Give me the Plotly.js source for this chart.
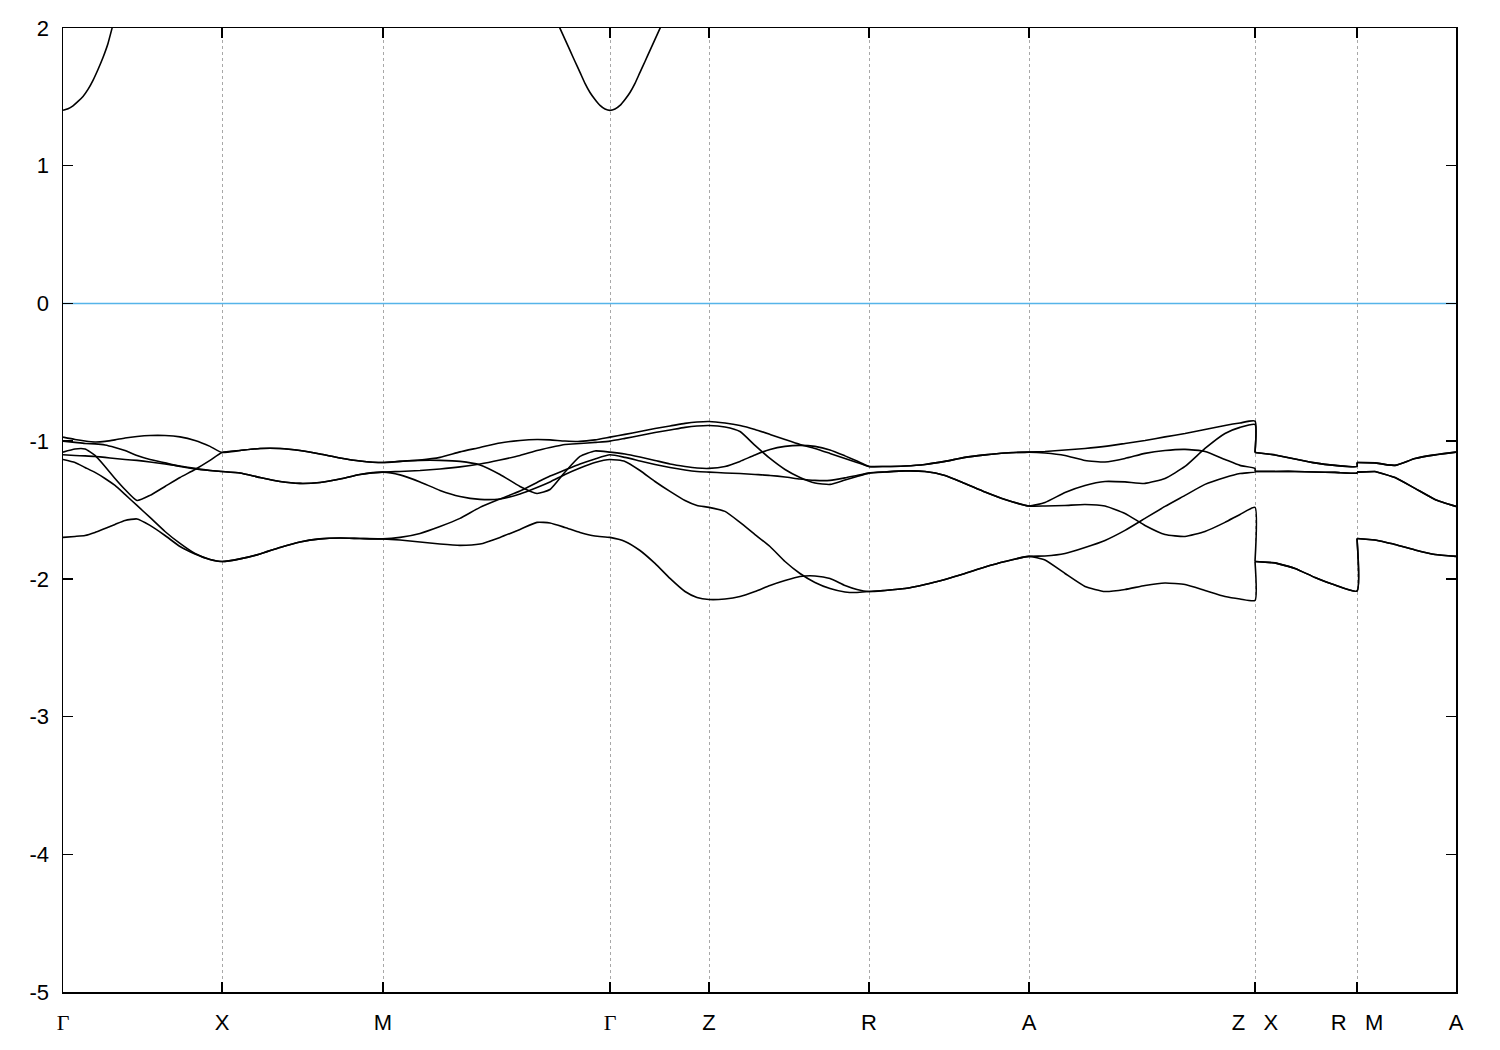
<!DOCTYPE html>
<html>
<head>
<meta charset="utf-8">
<script src="https://cdn.plot.ly/plotly-3.0.1.min.js"></script>
<style>html,body{margin:0;padding:0;background:#fff;}#plot{width:1500px;height:1050px;}</style>
</head>
<body>
<div id="plot"></div>
<script>
// k-path coordinate (arbitrary units along path)
const kPath = [0,0.12,0.22,0.32,0.42,0.52,0.62,0.74,0.87,1.02,1.17,1.32,1.47,1.59,
 1.77,1.97,2.17,2.37,2.57,2.77,2.97,3.20,
 3.37,3.57,3.77,3.97,4.17,4.37,4.57,4.74,4.87,5.02,5.17,5.32,5.47,
 5.62,5.77,5.92,6.07,6.22,6.34,6.46,
 6.62,6.77,6.92,7.07,7.22,7.37,7.52,7.67,7.82,7.94,8.06,
 8.22,8.42,8.62,8.82,9.02,9.22,9.42,9.66,
 9.82,10.02,10.22,10.42,10.62,10.82,11.02,11.22,11.42,11.62,11.77,11.92,
 11.92,
 12.12,12.32,12.52,12.72,12.94,
 12.94,
 13.12,13.32,13.52,13.72,13.93];

const bandA = [-0.971,-0.988,-0.999,-1.006,-1.002,-0.991,-0.977,-0.966,-0.959,-0.959,-0.969,-0.995,-1.038,-1.082,
 -1.068,-1.053,-1.053,-1.068,-1.093,-1.122,-1.144,-1.155,
 -1.147,-1.137,-1.118,-1.078,-1.046,-1.013,-0.995,-0.988,-0.991,-0.999,-1.002,-0.991,-0.971,
 -0.951,-0.930,-0.908,-0.890,-0.871,-0.861,-0.857,
 -0.868,-0.886,-0.915,-0.951,-0.988,-1.024,-1.053,-1.089,-1.126,-1.155,-1.184,
 -1.184,-1.180,-1.169,-1.147,-1.118,-1.100,-1.086,-1.080,
 -1.075,-1.064,-1.053,-1.038,-1.017,-0.995,-0.969,-0.944,-0.915,-0.886,-0.868,-0.855,
 -1.082,
 -1.100,-1.129,-1.158,-1.176,-1.184,
 -1.155,
 -1.158,-1.176,-1.126,-1.100,-1.080];

const bandB = [-1.000,-1.009,-1.017,-1.020,-1.028,-1.046,-1.068,-1.104,-1.133,-1.158,-1.184,-1.202,-1.213,-1.220,
 -1.231,-1.264,-1.293,-1.307,-1.300,-1.275,-1.242,-1.225,
 -1.220,-1.213,-1.202,-1.187,-1.166,-1.137,-1.104,-1.068,-1.046,-1.024,-1.017,-1.009,-1.000,
 -0.980,-0.959,-0.937,-0.919,-0.900,-0.890,-0.886,
 -0.897,-0.930,-1.031,-1.126,-1.206,-1.264,-1.304,-1.314,-1.282,-1.256,-1.232,
 -1.224,-1.216,-1.220,-1.249,-1.307,-1.369,-1.423,-1.471,
 -1.471,-1.467,-1.460,-1.471,-1.525,-1.612,-1.678,-1.692,-1.656,-1.590,-1.532,-1.481,
 -1.874,
 -1.884,-1.924,-1.990,-2.045,-2.089,
 -1.707,
 -1.718,-1.750,-1.790,-1.823,-1.837];

const bandC = [-1.080,-1.057,-1.057,-1.104,-1.184,-1.271,-1.351,-1.431,-1.394,-1.329,-1.264,-1.206,-1.140,-1.082,
 -1.068,-1.053,-1.053,-1.068,-1.093,-1.122,-1.144,-1.155,
 -1.147,-1.140,-1.140,-1.147,-1.173,-1.242,-1.329,-1.380,-1.351,-1.224,-1.111,-1.071,-1.080,
 -1.093,-1.115,-1.140,-1.166,-1.184,-1.195,-1.198,
 -1.184,-1.147,-1.100,-1.060,-1.038,-1.031,-1.038,-1.064,-1.107,-1.144,-1.184,
 -1.184,-1.180,-1.169,-1.147,-1.118,-1.100,-1.086,-1.080,
 -1.086,-1.104,-1.140,-1.151,-1.126,-1.089,-1.068,-1.060,-1.075,-1.133,-1.176,-1.198,
 -1.220,
 -1.220,-1.220,-1.224,-1.227,-1.232,
 -1.225,
 -1.220,-1.264,-1.343,-1.423,-1.474];

const bandD = [-1.099,-1.104,-1.107,-1.111,-1.118,-1.126,-1.133,-1.140,-1.151,-1.166,-1.180,-1.198,-1.213,-1.220,
 -1.231,-1.264,-1.293,-1.307,-1.300,-1.275,-1.242,-1.225,
 -1.245,-1.296,-1.358,-1.402,-1.423,-1.420,-1.383,-1.336,-1.296,-1.242,-1.195,-1.155,-1.133,
 -1.147,-1.213,-1.293,-1.365,-1.431,-1.467,-1.481,
 -1.510,-1.590,-1.678,-1.765,-1.874,-1.961,-2.026,-2.070,-2.095,-2.099,-2.092,
 -2.084,-2.070,-2.041,-2.004,-1.961,-1.914,-1.874,-1.837,
 -1.834,-1.816,-1.772,-1.721,-1.648,-1.561,-1.474,-1.394,-1.314,-1.264,-1.235,-1.224,
 -1.220,
 -1.220,-1.220,-1.224,-1.227,-1.232,
 -1.225,
 -1.220,-1.264,-1.343,-1.423,-1.474];

const bandE = [-1.133,-1.155,-1.191,-1.227,-1.271,-1.322,-1.387,-1.467,-1.554,-1.656,-1.743,-1.816,-1.859,-1.874,
 -1.855,-1.819,-1.772,-1.732,-1.710,-1.703,-1.707,-1.710,
 -1.699,-1.670,-1.620,-1.561,-1.481,-1.420,-1.362,-1.300,-1.253,-1.209,-1.166,-1.129,-1.099,
 -1.118,-1.144,-1.169,-1.191,-1.209,-1.220,-1.225,
 -1.231,-1.235,-1.242,-1.249,-1.260,-1.275,-1.285,-1.285,-1.267,-1.249,-1.232,
 -1.224,-1.216,-1.220,-1.249,-1.307,-1.369,-1.423,-1.471,
 -1.445,-1.373,-1.322,-1.293,-1.296,-1.307,-1.271,-1.184,-1.053,-0.944,-0.900,-0.879,
 -1.082,
 -1.100,-1.129,-1.158,-1.176,-1.184,
 -1.155,
 -1.158,-1.176,-1.126,-1.100,-1.080];

const bandF = [-1.699,-1.692,-1.685,-1.663,-1.634,-1.605,-1.576,-1.565,-1.612,-1.685,-1.765,-1.819,-1.859,-1.874,
 -1.855,-1.819,-1.772,-1.732,-1.710,-1.703,-1.707,-1.710,
 -1.718,-1.732,-1.747,-1.757,-1.747,-1.699,-1.641,-1.590,-1.594,-1.627,-1.663,-1.689,-1.699,
 -1.728,-1.794,-1.888,-1.997,-2.092,-2.135,-2.150,
 -2.146,-2.128,-2.092,-2.048,-2.012,-1.983,-1.979,-1.997,-2.048,-2.077,-2.092,
 -2.084,-2.070,-2.041,-2.004,-1.961,-1.914,-1.874,-1.837,
 -1.863,-1.961,-2.055,-2.092,-2.077,-2.048,-2.030,-2.041,-2.084,-2.128,-2.146,-2.157,
 -1.874,
 -1.884,-1.924,-1.990,-2.045,-2.089,
 -1.707,
 -1.718,-1.750,-1.790,-1.823,-1.837];

// conduction band (only the parts visible below 2 eV)
const condK = [0,0.05,0.10,0.15,0.20,0.25,0.30,0.35,0.40,0.45,0.49,0.51,null,
 4.93,4.97,5.02,5.07,5.12,5.17,5.22,5.27,5.32,5.37,5.42,5.47,
 5.52,5.57,5.62,5.67,5.72,5.77,5.82,5.87,5.92,5.97,6.01];
const condE = [1.402,1.413,1.435,1.467,1.503,1.554,1.620,1.699,1.786,1.888,1.997,2.055,null,
 2.062,1.997,1.917,1.837,1.757,1.678,1.598,1.532,1.481,1.438,1.412,1.402,
 1.412,1.438,1.481,1.532,1.598,1.678,1.757,1.837,1.917,1.997,2.062];

const tickK = [0,1.59,3.20,5.47,6.46,8.06,9.66,11.92,12.94,13.93];
const G = '<span style="font-family:\'Liberation Serif\',serif">\u0393</span>';
const tickLabels = [G,'X','M',G,'Z','R','A','Z\u00a0\u00a0\u00a0X','R\u00a0\u00a0\u00a0M','A'];
const fermiK = [0,13.93];
const fermiE = [0,0];

// path pieces: Γ..Z (0-73), X..R (74-79), M..A (80-85)
const pieces = [[0,74],[74,80],[80,86]];
const jumps = [[73,74],[79,80]];
const bands = [bandA,bandB,bandC,bandD,bandE,bandF];
const lineStyle = {color:'#000',width:1.6};
const traces = [{x:fermiK,y:fermiE,mode:'lines',line:{color:'#56b4e9',width:1.6},hoverinfo:'skip'}];
bands.forEach(b=>{
  pieces.forEach(([s,e])=>traces.push({x:kPath.slice(s,e),y:b.slice(s,e),mode:'lines',
    line:Object.assign({shape:'spline',smoothing:0.5},lineStyle),hoverinfo:'skip'}));
  jumps.forEach(([s,e])=>traces.push({x:[kPath[s],kPath[e]],y:[b[s],b[e]],mode:'lines',line:lineStyle,hoverinfo:'skip'}));
});
traces.push({x:condK,y:condE,mode:'lines',line:Object.assign({shape:'spline',smoothing:0.5},lineStyle),connectgaps:false,hoverinfo:'skip'});

const layout = {
  width:1500,height:1050,
  margin:{l:63,r:44,t:28,b:58},
  paper_bgcolor:'#fff',plot_bgcolor:'#fff',
  showlegend:false,
  font:{family:'"Liberation Sans",Arial,sans-serif',size:22,color:'#000'},
  xaxis:{range:[0,13.93],tickmode:'array',tickvals:tickK,ticktext:tickLabels,
    showgrid:true,gridcolor:'#a8a8a8',griddash:'3px,3px',gridwidth:1,
    showline:true,linecolor:'#000',linewidth:1.5,mirror:'ticks',
    ticks:'inside',ticklen:10,tickwidth:1.5,tickcolor:'#000',
    zeroline:false,ticklabelstandoff:10,tickfont:{size:22}},
  yaxis:{range:[-5,2],tickmode:'array',tickvals:[-5,-4,-3,-2,-1,0,1,2],ticktext:['-5','-4','-3','-2','-1','0','1','2'],
    showgrid:false,showline:true,linecolor:'#000',linewidth:1.5,mirror:'ticks',
    ticks:'inside',ticklen:10,tickwidth:1.5,tickcolor:'#000',
    zeroline:false,ticklabelstandoff:8,tickfont:{size:22}}
};
Plotly.newPlot('plot',traces,layout,{staticPlot:true});
</script>
</body>
</html>
